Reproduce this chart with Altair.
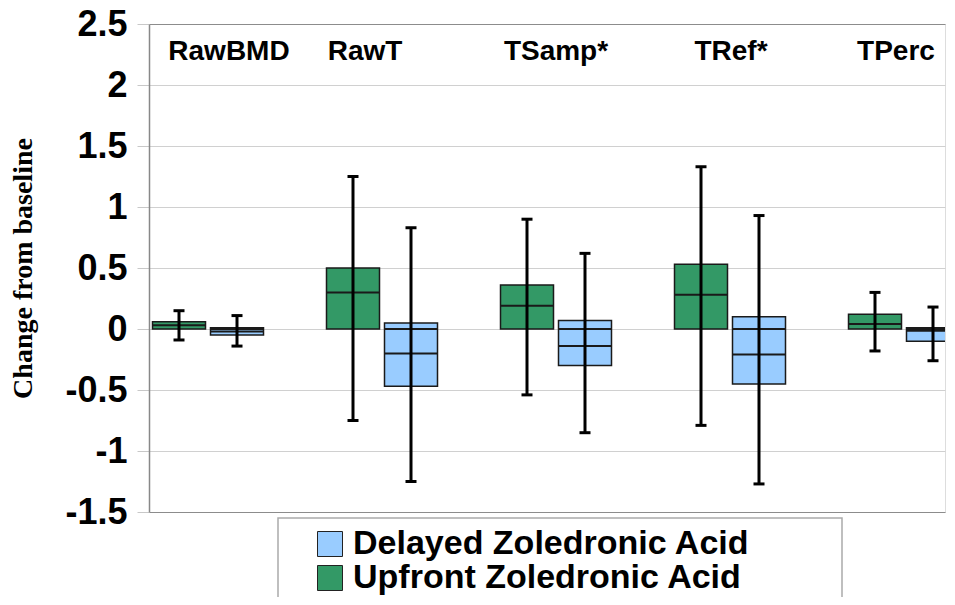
import altair as alt
import pandas as pd

# ---------------- data ----------------
groups = ["RawBMD", "RawT", "TSamp*", "TRef*", "TPerc"]
series_names = ["Upfront Zoledronic Acid", "Delayed Zoledronic Acid"]
legend_order = ["Delayed Zoledronic Acid", "Upfront Zoledronic Acid"]
legend_colors = ["#99CCFF", "#339966"]

up_low = [-0.09, -0.75, -0.54, -0.79, -0.18]
up_q1 = [0.0, 0.0, 0.0, 0.0, 0.0]
up_med = [0.03, 0.30, 0.19, 0.28, 0.04]
up_q3 = [0.06, 0.50, 0.36, 0.53, 0.12]
up_high = [0.15, 1.25, 0.90, 1.33, 0.30]

de_low = [-0.14, -1.25, -0.85, -1.27, -0.26]
de_q1 = [-0.05, -0.47, -0.30, -0.45, -0.10]
de_med = [-0.02, -0.20, -0.14, -0.21, -0.015]
de_q3 = [0.01, 0.05, 0.07, 0.10, 0.01]
de_high = [0.11, 0.83, 0.62, 0.93, 0.18]

y_ticks = [-1.5, -1, -0.5, 0, 0.5, 1, 1.5, 2, 2.5]

# ---------------- layout constants ----------------
STEP_PX = 174.0
OFF = 29.0 / STEP_PX       # box centre offset from group centre
HALF = 26.5 / STEP_PX      # half box width
CAP = 5.5 / STEP_PX        # half cap width
LABEL_Y = 2.27
LABEL_SHIFT_PX = [21, -17, 0, 1, -8]   # header text nudges (pixels)
PLOT_W, PLOT_H = 796, 488

rows = []
stats = {
    series_names[0]: (up_low, up_q1, up_med, up_q3, up_high, -1),
    series_names[1]: (de_low, de_q1, de_med, de_q3, de_high, 1),
}
for name, (lo, q1, md, q3, hi, sgn) in stats.items():
    for i, g in enumerate(groups):
        c = i + sgn * OFF
        rows.append(dict(group=g, series=name, low=lo[i], q1=q1[i], med=md[i],
                         q3=q3[i], high=hi[i], xc=c, xl=c - HALF, xr=c + HALF,
                         cl=c - CAP, cr=c + CAP))
df = pd.DataFrame(rows)
lab_df = pd.DataFrame({
    "group": groups,
    "gx": [i + LABEL_SHIFT_PX[i] / STEP_PX for i in range(len(groups))],
})

xscale = alt.Scale(domain=[-59 / STEP_PX, (PLOT_W - 59) / STEP_PX], nice=False, zero=False)
yscale = alt.Scale(domain=[-1.5, 2.5], nice=False, zero=False)
TITLE = "Change from baseline"

yaxis = alt.Axis(
    values=y_ticks,
    labelExpr="'' + datum.value",
    labelFont="Liberation Sans", labelFontSize=36, labelFontWeight="bold",
    labelColor="black", labelPadding=10,
    tickSize=12, tickColor="#c8c8c8", tickWidth=1,
    domainColor="#888888", domainWidth=1.5,
    grid=True,
    gridColor={"condition": {"test": "datum.value >= 2.5 || datum.value <= -1.5",
                             "value": "#8c8c8c"}, "value": "#d0d0d0"},
    gridWidth=1,
    titleFont="Liberation Serif", titleFontSize=28, titleFontWeight="bold",
    titleColor="black", titleX=-126, titleY=PLOT_H / 2, titleAngle=-90,
    titleAlign="center", titleBaseline="middle",
)


def X(field):
    return alt.X(field, type="quantitative", scale=xscale, axis=None)


def Y(field):
    return alt.Y(field, type="quantitative", scale=yscale, axis=yaxis, title=TITLE)


base = alt.Chart(df)

# frame behind the legend (decoration only)
legend_frame = alt.Chart(pd.DataFrame({"k": [0]})).mark_rect(
    fill="white", stroke="#aaaaaa", strokeWidth=1.5, clip=False
).encode(x=alt.value(129), x2=alt.value(693), y=alt.value(494), y2=alt.value(620))

box = base.mark_rect(stroke="#1a1a1a", strokeWidth=1.5, clip=True).encode(
    x=X("xl"), x2="xr", y=Y("q1"), y2="q3",
    color=alt.Color(
        "series:N",
        scale=alt.Scale(domain=legend_order, range=legend_colors),
        legend=alt.Legend(
            title=None, orient="none", legendX=129, legendY=493,
            direction="vertical", symbolType="square", symbolSize=625,
            symbolStrokeColor="#222222", symbolStrokeWidth=1, symbolOpacity=1,
            labelFont="Liberation Sans", labelFontSize=34, labelFontWeight="bold",
            labelColor="black", labelLimit=0, labelOffset=6,
            padding=10, symbolOffset=25, rowPadding=0,
        ),
    ),
)

med = base.mark_rule(color="#1a1a1a", strokeWidth=2, clip=True).encode(
    x=X("xl"), x2="xr", y=Y("med")
)

zero = base.transform_filter("datum.q1 < 0 && datum.q3 > 0").mark_rule(
    color="#1a1a1a", strokeWidth=2, clip=True
).encode(x=X("xl"), x2="xr",
         y=alt.YDatum(0, type="quantitative", scale=yscale, axis=yaxis, title=TITLE))

whisk = base.mark_rule(color="black", strokeWidth=3, clip=True).encode(
    x=X("xc"), y=Y("low"), y2="high"
)
cap_lo = base.mark_rule(color="black", strokeWidth=3, clip=True).encode(
    x=X("cl"), x2="cr", y=Y("low")
)
cap_hi = base.mark_rule(color="black", strokeWidth=3, clip=True).encode(
    x=X("cl"), x2="cr", y=Y("high")
)

labels = alt.Chart(lab_df).mark_text(
    font="Liberation Sans", fontSize=28, fontWeight="bold", color="black",
    baseline="middle", align="center"
).encode(
    x=X("gx"),
    y=alt.YDatum(LABEL_Y, type="quantitative", scale=yscale, axis=yaxis, title=TITLE),
    text="group:N",
)

chart = alt.layer(box, med, zero, whisk, cap_lo, cap_hi, labels, legend_frame).properties(
    width=PLOT_W, height=PLOT_H,
    padding={"left": 141, "top": 16, "right": 2, "bottom": 85},
    autosize=alt.AutoSizeParams(type="none"),
).configure_view(stroke=None).configure(background="white")

chart.save("out.html", embed_options={"renderer": "svg", "actions": False})
